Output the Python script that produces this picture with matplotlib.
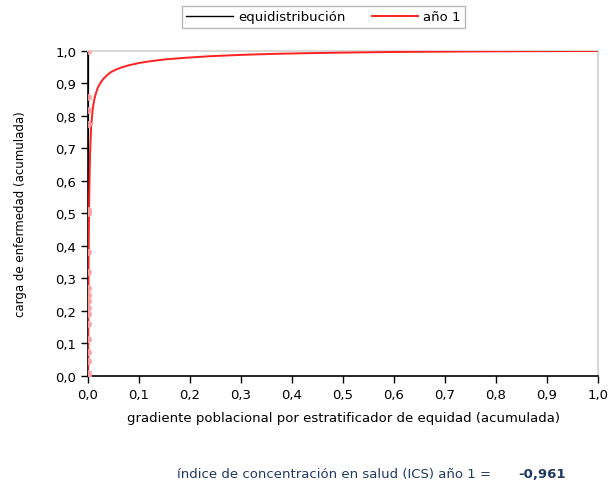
import numpy as np
import matplotlib
matplotlib.use("Agg")
import matplotlib.pyplot as plt

# curva de concentración año 1
x_ano1 = [0, 0.001, 0.002, 0.003, 0.004, 0.006, 0.008, 0.01, 0.013, 0.016, 0.02, 0.025,
          0.03, 0.037, 0.045, 0.055, 0.065, 0.08, 0.1, 0.12, 0.15, 0.19, 0.24, 0.3,
          0.36, 0.42, 0.5, 0.6, 0.7, 0.8, 0.9, 1.0]
y_ano1 = [0, 0.35, 0.5, 0.6, 0.68, 0.76, 0.8, 0.83, 0.855, 0.872, 0.89, 0.903,
          0.914, 0.925, 0.935, 0.943, 0.949, 0.956, 0.963, 0.968, 0.974, 0.979, 0.984, 0.988,
          0.991, 0.993, 0.995, 0.997, 0.998, 0.999, 0.9995, 1.0]
# equidistribución
x_equi = [0, 0]
y_equi = [0, 1]
# puntos observados (pegados al eje)
y_puntos = [0.0, 0.01, 0.045, 0.075, 0.115, 0.16, 0.19, 0.21, 0.23, 0.25, 0.27,
            0.32, 0.38, 0.50, 0.51, 0.775, 0.818, 0.857, 1.0]
x_puntos = [0.0] * len(y_puntos)

ticks = np.round(np.arange(0, 1.01, 0.1), 1)
tick_labels = [f"{t:.1f}".replace(".", ",") for t in ticks]
ics = "-0,961"

fig = plt.figure(figsize=(6.08, 4.85), dpi=100)
ax = fig.add_axes([0.1447, 0.2227, 0.8389, 0.6701])

ax.plot(x_equi, y_equi, color="black", lw=1.6, label="equidistribución", zorder=3)
ax.plot(x_ano1, y_ano1, color="#ff2020", lw=1.4, label="año 1", zorder=4)
ax.plot(x_puntos, y_puntos, ls="none", marker="o", ms=4, color="#ffa0a0",
        alpha=0.9, zorder=5)

ax.set_xlim(0, 1)
ax.set_ylim(0, 1)
ax.set_xticks(ticks)
ax.set_yticks(ticks)
ax.set_xticklabels(tick_labels, fontsize=9.5)
ax.set_yticklabels(tick_labels, fontsize=9.5)
ax.tick_params(direction="out", length=5, width=1, color="black")
for s in ["left", "bottom"]:
    ax.spines[s].set_color("black")
    ax.spines[s].set_linewidth(1.2)
for s in ["top", "right"]:
    ax.spines[s].set_color("#d9d9d9")
    ax.spines[s].set_linewidth(1.5)

ax.set_xlabel("gradiente poblacional por estratificador de equidad (acumulada)",
              fontsize=9.5, labelpad=7)
ax.set_ylabel("carga de enfermedad (acumulada)", fontsize=8.5, labelpad=20)

leg = fig.legend(loc="center", bbox_to_anchor=(0.532, 0.963), ncol=2, fontsize=9.5,
                 frameon=True, fancybox=False, edgecolor="#a6a6a6", handlelength=3.5,
                 columnspacing=2.0, borderpad=0.35, handletextpad=0.4)
leg.get_frame().set_linewidth(1)
leg.get_lines()[0].set_linewidth(1.0)

fig.text(0.808, 0.008, "índice de concentración en salud (ICS) año 1 =", ha="right",
         va="bottom", fontsize=9.5, color="#1f3864")
fig.text(0.852, 0.008, ics, ha="left", va="bottom", fontsize=9.5, color="#1f3864",
         fontweight="bold")

fig.savefig("out.png", dpi=100)
